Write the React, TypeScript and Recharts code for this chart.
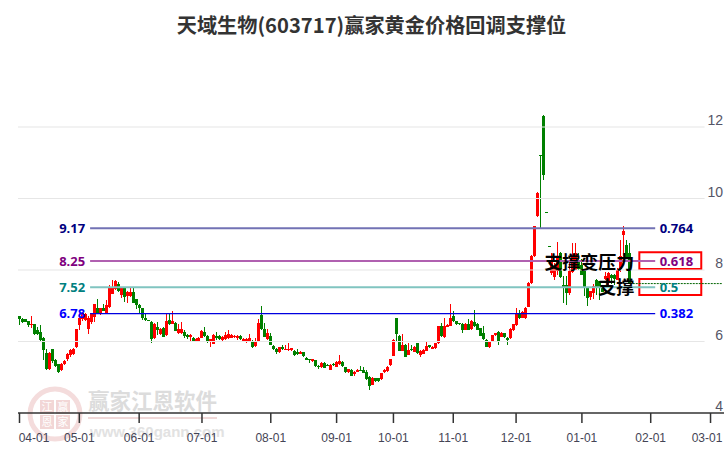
import { Bar, ComposedChart, ReferenceArea, ReferenceDot, ReferenceLine, XAxis, YAxis } from 'recharts'

const opens = [
  6.71,6.64,6.62,6.57,6.46,6.48,6.32,6.27,6.10,5.68,
  5.22,5.78,5.49,5.36,5.20,5.36,5.50,5.62,5.64,5.85,
  6.46,6.62,6.58,6.36,6.55,6.69,6.93,6.79,6.94,6.81,
  6.97,7.35,7.46,7.60,7.30,7.49,7.27,7.27,7.39,7.18,
  7.02,6.93,6.66,6.60,6.55,6.10,6.41,6.20,6.39,6.18,
  6.60,6.50,6.53,6.24,6.24,6.26,6.18,6.13,6.10,6.02,
  6.02,6.11,6.27,6.15,5.97,5.94,6.16,6.15,6.04,6.07,
  6.09,6.11,6.13,6.11,6.15,6.02,5.99,6.00,6.01,5.88,
  6.02,6.75,6.35,6.07,6.16,5.88,5.79,5.71,5.85,5.77,
  5.75,5.75,5.73,5.71,5.67,5.70,5.55,5.50,5.45,5.47,
  5.32,5.28,5.40,5.35,5.21,5.37,5.30,5.37,5.44,5.28,
  5.13,5.21,5.11,5.16,5.21,5.21,5.14,5.02,4.79,4.97,
  4.97,4.93,5.15,5.18,5.33,5.61,6.65,6.16,5.75,5.91,
  5.63,5.78,5.72,5.95,5.63,5.67,5.75,5.89,5.81,5.81,
  5.95,6.42,6.12,6.42,6.44,6.70,6.56,6.51,6.49,6.33,
  6.49,6.35,6.54,6.49,6.37,6.23,6.05,5.86,6.00,6.17,
  6.26,6.14,6.23,6.11,6.09,6.32,6.46,6.79,6.67,6.67,
  6.98,7.64,8.38,9.51,11.21,12.31,9.61,8.66,7.92,7.78,
  7.96,8.48,7.59,7.57,7.35,7.93,8.01,8.24,8.15,7.96,
  7.50,7.24,7.34,7.73,7.68,7.50,7.73,7.71,7.87,7.87,
  7.73,8.05,8.96,8.71,8.48,
]
const closes = [
  6.64,6.55,6.55,6.46,6.50,6.20,6.20,6.04,5.76,5.22,
  5.68,5.45,5.32,5.15,5.38,5.45,5.64,5.75,5.79,6.34,
  6.65,6.79,6.76,6.67,6.79,7.04,6.79,6.93,6.86,7.02,
  7.49,7.51,7.69,7.41,7.49,7.25,7.39,7.39,7.08,7.02,
  6.93,6.66,6.60,6.57,6.08,6.50,6.34,6.35,6.15,6.58,
  6.49,6.58,6.30,6.35,6.35,6.15,6.13,6.18,6.02,6.08,
  6.11,6.30,6.15,5.97,6.06,6.18,6.11,6.06,6.13,6.18,
  6.20,6.18,6.16,6.16,6.06,6.08,6.08,6.11,5.85,6.01,
  6.53,6.35,6.14,6.23,5.91,5.79,5.71,5.84,5.79,5.79,
  5.79,5.81,5.61,5.65,5.72,5.58,5.50,5.47,5.50,5.30,
  5.28,5.40,5.27,5.33,5.35,5.34,5.44,5.46,5.32,5.13,
  5.22,5.05,5.16,5.21,5.20,5.13,4.94,4.76,4.98,4.89,
  4.88,5.11,5.21,5.30,5.50,6.05,6.21,5.75,5.91,5.58,
  5.77,5.75,5.86,5.67,5.74,5.77,5.88,5.84,5.86,5.95,
  6.42,6.14,6.44,6.47,6.65,6.56,6.49,6.48,6.33,6.49,
  6.33,6.58,6.42,6.33,6.16,6.05,5.86,6.00,6.17,6.23,
  6.00,6.25,6.11,6.05,6.35,6.48,6.79,6.66,6.83,6.95,
  7.64,8.40,9.22,10.16,11.17,10.66,9.60,8.65,8.29,8.10,
  8.38,7.80,7.50,7.34,7.96,8.38,8.48,8.01,7.87,7.50,
  7.21,7.40,7.54,7.50,7.50,7.40,7.82,7.92,7.80,7.75,
  8.01,8.40,9.08,8.38,7.62,
]
const highs = [
  6.72,6.66,6.63,6.58,6.70,6.50,6.41,6.46,6.13,5.78,
  5.70,5.80,5.51,5.38,5.40,5.47,5.67,5.78,5.83,6.36,
  6.79,6.83,6.80,6.70,6.81,7.06,7.19,6.95,7.05,7.16,
  7.58,7.72,7.72,7.67,7.51,7.51,7.41,7.53,7.53,7.20,
  7.04,6.95,6.77,6.61,6.57,6.52,6.55,6.37,6.41,6.79,
  6.79,6.85,6.55,6.50,6.55,6.32,6.20,6.22,6.12,6.10,
  6.13,6.32,6.41,6.17,6.08,6.20,6.27,6.18,6.15,6.27,
  6.32,6.22,6.18,6.18,6.18,6.10,6.10,6.20,6.03,6.10,
  6.63,7.00,6.51,6.35,6.23,5.90,5.81,5.86,5.89,5.91,
  5.95,5.83,5.75,5.79,5.74,5.72,5.57,5.52,5.52,5.49,
  5.34,5.42,5.42,5.36,5.37,5.39,5.46,5.63,5.46,5.30,
  5.24,5.23,5.18,5.23,5.32,5.28,5.20,5.04,5.00,4.99,
  4.99,5.13,5.23,5.32,5.52,6.07,6.67,6.18,6.22,5.93,
  5.95,5.91,5.88,5.97,5.76,5.79,6.00,5.91,5.88,5.97,
  6.44,6.51,6.65,6.49,7.06,6.84,6.58,6.52,6.51,6.51,
  6.63,6.60,6.87,6.51,6.39,6.44,6.07,6.02,6.19,6.25,
  6.28,6.27,6.25,6.13,6.37,6.50,6.93,6.88,6.86,6.97,
  7.66,8.42,9.24,10.18,11.22,12.33,9.61,8.66,8.48,8.20,
  8.78,8.50,7.82,7.82,8.24,8.76,8.76,8.48,8.30,7.98,
  7.52,7.42,7.60,7.75,7.70,7.52,7.94,7.94,7.90,7.90,
  8.05,8.85,9.22,8.85,8.76,
]
const lows = [
  6.46,6.52,6.54,6.40,6.38,6.18,6.18,6.02,5.49,5.21,
  5.20,5.41,5.29,5.11,5.18,5.34,5.45,5.58,5.62,5.83,
  6.32,6.58,6.56,6.20,6.50,6.55,6.77,6.74,6.84,6.79,
  6.95,7.33,7.44,7.39,7.21,7.11,7.08,7.25,7.07,6.90,
  6.79,6.60,6.58,6.56,5.96,6.08,6.18,6.18,6.13,6.16,
  6.47,6.48,6.28,6.22,6.20,6.11,6.08,6.02,6.00,6.00,
  6.00,6.09,6.13,5.95,5.85,5.92,6.04,6.04,6.02,6.05,
  6.07,6.09,6.11,6.04,6.04,6.00,5.97,5.98,5.83,5.86,
  6.00,6.33,6.12,6.05,5.89,5.77,5.66,5.69,5.75,5.75,
  5.73,5.73,5.59,5.63,5.65,5.56,5.48,5.39,5.43,5.28,
  5.22,5.26,5.25,5.32,5.19,5.32,5.28,5.35,5.28,5.11,
  5.11,5.03,5.04,5.14,5.18,5.11,4.92,4.63,4.77,4.87,
  4.86,4.91,5.13,5.16,5.31,5.59,6.00,5.73,5.73,5.56,
  5.61,5.73,5.70,5.65,5.58,5.65,5.73,5.82,5.79,5.79,
  5.93,6.12,6.10,6.40,6.42,6.54,6.47,6.46,6.23,6.31,
  6.31,6.33,6.40,6.31,6.14,6.03,5.84,5.81,5.98,6.15,
  5.91,6.12,6.09,5.91,6.07,6.30,6.44,6.64,6.65,6.64,
  6.96,7.62,8.36,9.49,9.18,10.53,9.60,8.65,7.87,7.73,
  7.87,7.78,7.07,7.03,7.31,7.91,7.99,7.99,7.85,7.26,
  7.00,7.17,7.20,7.30,7.15,7.38,7.71,7.52,7.60,7.58,
  7.71,7.95,8.38,8.36,7.60,
]

const tickIndex = [0, 20, 40, 61, 84, 106, 125, 145, 166, 188, 211, 231]
const tickLabels = ['04-01', '05-01', '06-01', '07-01', '08-01', '09-01', '10-01', '11-01', '12-01', '01-01', '02-01', '03-01']
const priceTicks = [4, 6, 8, 10, 12]

const fibPrices = [9.17, 8.25, 7.52, 6.78]
const fibRatios = ['0.764', '0.618', '0.5', '0.382']
const fibLine = ['#7272b4', '#b060b0', '#80c4c0', '#0000e0']
const fibText = ['#000080', '#800080', '#008080', '#0000ff']
const lastPrice = 7.62

const candles = opens.map((o, i) => ({ i, open: o, close: closes[i], high: highs[i], low: lows[i] }))

function Candle(props: any) {
  const { x, y, width, height, payload } = props
  const up = payload.close >= payload.open
  const color = up ? '#ff0000' : '#008000'
  const k = height / (payload.high - payload.low || 1)
  const top = y + (payload.high - Math.max(payload.open, payload.close)) * k
  const bodyH = Math.abs(payload.open - payload.close) * k
  // snap to whole pixels so the thin wicks stay crisp
  const left = Math.round(x)
  const cx = left + width / 2
  return (
    <g shapeRendering="crispEdges">
      <line x1={cx} x2={cx} y1={y} y2={y + height} stroke={color} strokeWidth={1} />
      <rect x={left} y={Math.round(top)} width={width} height={Math.max(Math.round(bodyH), 1)} fill={color} />
    </g>
  )
}

function DateTick({ x, y, payload }: any) {
  const textX = Math.min(Math.max(x, 34), 707)
  return (
    <text x={textX} y={y + 17} textAnchor="middle" fontSize={12} fill="#445" fontFamily="Liberation Sans">
      {tickLabels[tickIndex.indexOf(payload.value)]}
    </text>
  )
}

function PriceTick({ y, payload }: any) {
  return (
    <text x={723} y={y - 2} textAnchor="end" fontSize={14} fill="#556" fontFamily="Liberation Sans">
      {payload.value}
    </text>
  )
}

function Watermark() {
  const cjk = 'Noto Sans CJK SC'
  return (
    <svg width={726} height={450} style={{ position: 'absolute', left: 0, top: 0 }}>
      <circle cx={55} cy={414} r={25} fill="none" stroke="#f4dcdc" strokeWidth={5} />
      <rect x={40} y={400} width={14} height={14} fill="#f2d6d6" />
      <rect x={56} y={400} width={14} height={14} fill="#f2d6d6" />
      <rect x={40} y={415} width={14} height={14} fill="#f2d6d6" />
      <rect x={56} y={415} width={14} height={14} fill="#f2d6d6" />
      <text x={47} y={411} textAnchor="middle" fontSize={11} fill="#fff" fontFamily={cjk}>江</text>
      <text x={63} y={411} textAnchor="middle" fontSize={11} fill="#fff" fontFamily={cjk}>赢</text>
      <text x={47} y={426} textAnchor="middle" fontSize={11} fill="#fff" fontFamily={cjk}>恩</text>
      <text x={63} y={426} textAnchor="middle" fontSize={11} fill="#fff" fontFamily={cjk}>家</text>
      <text x={88} y={409} fontSize={21.5} fontWeight={700} fill="#dcdcdc" fontFamily={cjk}>赢家江恩软件</text>
      <rect x={88} y={417} width={129} height={2} fill="#f0d8d8" />
      <text x={90} y={437} fontSize={15} fontWeight={700} fill="#e2e2e2" fontFamily="Liberation Sans">www.360gann.com</text>
    </svg>
  )
}

export default function App() {
  return (
    <div style={{ position: 'absolute', left: 0, top: 0, width: 726, height: 450, background: '#fff' }}>
      <Watermark />
      <svg width={726} height={50} style={{ position: 'absolute', left: 0, top: 0 }}>
        <text x={371.5} y={33} textAnchor="middle" fontSize={20.2} fontWeight={700} fill="#333" fontFamily="Noto Sans CJK SC">
          天域生物(603717)赢家黄金价格回调支撑位
        </text>
      </svg>
      <div style={{ position: 'absolute', left: 0, top: 0 }}>
        <ComposedChart
          width={726}
          height={450}
          data={candles}
          margin={{ top: 55.5, right: 2, bottom: 0, left: 18 }}
        >
          <XAxis
            dataKey="i"
            type="number"
            domain={[-0.5, 235.5]}
            ticks={tickIndex}
            interval={0}
            height={37}
            tickSize={10}
            tick={<DateTick />}
            stroke="#333"
            strokeWidth={1.5}
            allowDataOverflow
          />
          <YAxis
            orientation="right"
            mirror
            width={30}
            domain={[4, 14]}
            ticks={priceTicks}
            tick={<PriceTick />}
            axisLine={false}
            tickLine={false}
            allowDataOverflow
          />
          {priceTicks.slice(1).map(p => (
            <ReferenceLine
              key={p}
              segment={[{ x: -0.5, y: p }, { x: 229, y: p }]}
              stroke="#e6e6e6"
              strokeWidth={1.2}
            />
          ))}
          <Bar
            dataKey={(d: any) => [d.low, d.high]}
            barSize={3}
            shape={<Candle />}
            isAnimationActive={false}
          />
          <ReferenceLine
            segment={[{ x: 205, y: lastPrice }, { x: 235, y: lastPrice }]}
            stroke="#006400"
            strokeDasharray="2 1"
            strokeWidth={1}
          />
          {fibPrices.map((p, n) => (
            <ReferenceLine
              key={p}
              segment={[{ x: 23.6, y: p }, { x: 212.5, y: p }]}
              stroke={fibLine[n]}
              strokeWidth={n === 3 ? 1.3 : 2}
            />
          ))}
          {fibPrices.map((p, n) => (
            <ReferenceDot
              key={p}
              x={23.6}
              y={p}
              r={0}
              fill="none"
              stroke="none"
              label={{ value: p.toFixed(2), position: 'left', offset: 5, fill: fibText[n], fontSize: 13, fontWeight: 700, fontFamily: 'Noto Sans' }}
            />
          ))}
          {fibPrices.map((p, n) => (
            <ReferenceDot
              key={p}
              x={214}
              y={p}
              r={0}
              fill="none"
              stroke="none"
              label={{ value: fibRatios[n], position: 'right', offset: 0, fill: fibText[n], fontSize: 13, fontWeight: 700, fontFamily: 'Noto Sans' }}
            />
          ))}
          <ReferenceArea x1={207.2} x2={227.9} y1={8.03} y2={8.5} fill="none" stroke="#ff0000" strokeWidth={2} />
          <ReferenceArea x1={207.2} x2={227.9} y1={7.3} y2={7.75} fill="none" stroke="#ff0000" strokeWidth={2} />
          <ReferenceDot
            x={190.5}
            y={8.2}
            r={0}
            fill="none"
            stroke="none"
            label={{ value: '支撑变压力', position: 'center', fill: '#000', fontSize: 18, fontWeight: 700, fontFamily: 'Noto Sans CJK SC' }}
          />
          <ReferenceDot
            x={199.5}
            y={7.52}
            r={0}
            fill="none"
            stroke="none"
            label={{ value: '支撑', position: 'center', fill: '#000', fontSize: 18, fontWeight: 700, fontFamily: 'Noto Sans CJK SC' }}
          />
        </ComposedChart>
      </div>
    </div>
  )
}
